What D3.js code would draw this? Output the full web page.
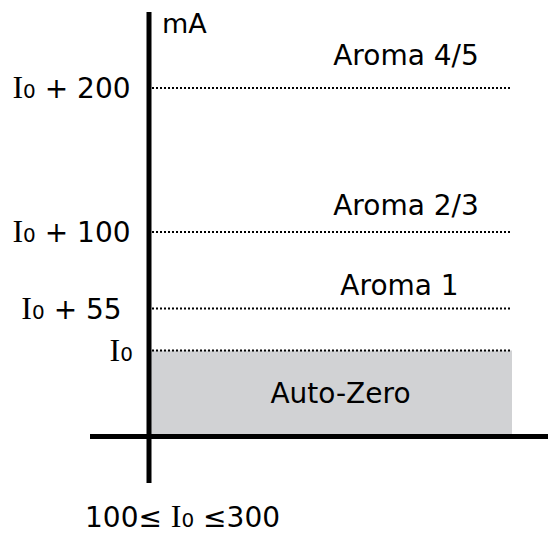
<!DOCTYPE html>
<html>
<head>
<meta charset="utf-8">
<script src="https://cdn.jsdelivr.net/npm/d3@7"></script>
<style>
  html, body { margin: 0; padding: 0; background: #fff; }
  svg { display: block; }
  text { font-family: "DejaVu Sans", Verdana, sans-serif; fill: #000; }
  .serif { font-family: "Liberation Serif", "Times New Roman", serif; }
</style>
</head>
<body>
<svg id="chart" width="550" height="534"></svg>
<script>
// Current thresholds above the zero level I0 (mA)
const levelOffsets = [0, 55, 100, 200];
const levelTicks = ["", " + 55", " + 100", " + 200"];
const zoneNames = ["Auto-Zero", "Aroma 1", "Aroma 2/3", "Aroma 4/5"];
const unitLabel = "mA";
const rangeNote = ["100\u2264 ", " \u2264300"];

const svg = d3.select("#chart");

// Schematic (non-uniform) current axis: piecewise linear between levels
const y = d3.scaleLinear()
  .domain([-45, 0, 55, 100, 200])
  .range([436.5, 350.5, 308.5, 232, 88]);
const yFloor = -45;

// Horizontal extent of the level bands
const x = d3.scaleLinear().domain([0, 1]).range([151, 512]);

// Auto-Zero band (from the axis up to I0)
svg.append("rect")
  .attr("x", x(0))
  .attr("y", y(0))
  .attr("width", x(1) - x(0))
  .attr("height", y(yFloor) - y(0) - 2)
  .attr("fill", "#d1d2d4");

// Dotted threshold lines
svg.selectAll("line.level")
  .data(levelOffsets)
  .join("line")
  .attr("class", "level")
  .attr("x1", x(0) + 1)
  .attr("x2", x(1))
  .attr("y1", d => y(d))
  .attr("y2", d => y(d))
  .attr("stroke", "#000")
  .attr("stroke-width", 2)
  .attr("stroke-dasharray", "2,2");

// Axes
svg.append("line")
  .attr("x1", 149).attr("x2", 149)
  .attr("y1", 12).attr("y2", 483)
  .attr("stroke", "#000").attr("stroke-width", 5);
svg.append("line")
  .attr("x1", 90).attr("x2", 548)
  .attr("y1", y(yFloor)).attr("y2", y(yFloor))
  .attr("stroke", "#000").attr("stroke-width", 5);

// Unit label
svg.append("text")
  .attr("x", 162).attr("y", 33)
  .attr("font-size", 27)
  .text(unitLabel);

// Level labels on the left: "I" + small "0" + offset
const labelPos = [
  { x: 133, anchor: "end" },
  { x: 71.5, anchor: "middle" },
  { x: 71.5, anchor: "middle" },
  { x: 71.5, anchor: "middle" }
];
levelOffsets.forEach((d, i) => {
  const t = svg.append("text")
    .attr("x", labelPos[i].x)
    .attr("y", y(d) + 10)
    .attr("text-anchor", labelPos[i].anchor)
    .attr("font-size", 28);
  t.append("tspan").attr("class", "serif").attr("font-size", 32).text("I");
  t.append("tspan").attr("font-size", 20).text("0");
  t.append("tspan").text(levelTicks[i]);
});

// Zone names
const zonePos = [
  { x: 340.5, dy: 52 },
  { x: 399.5, dy: -13.5 },
  { x: 406, dy: -17 },
  { x: 406, dy: -23 }
];
zoneNames.forEach((name, i) => {
  svg.append("text")
    .attr("x", zonePos[i].x)
    .attr("y", y(levelOffsets[i]) + zonePos[i].dy)
    .attr("text-anchor", "middle")
    .attr("font-size", 28)
    .text(name);
});

// Range of I0
const note = svg.append("text")
  .attr("x", 85).attr("y", 527)
  .attr("font-size", 28);
note.append("tspan").text(rangeNote[0]);
note.append("tspan").attr("class", "serif").attr("font-size", 32).text("I");
note.append("tspan").attr("font-size", 20).text("0");
note.append("tspan").text(rangeNote[1]);
</script>
</body>
</html>
